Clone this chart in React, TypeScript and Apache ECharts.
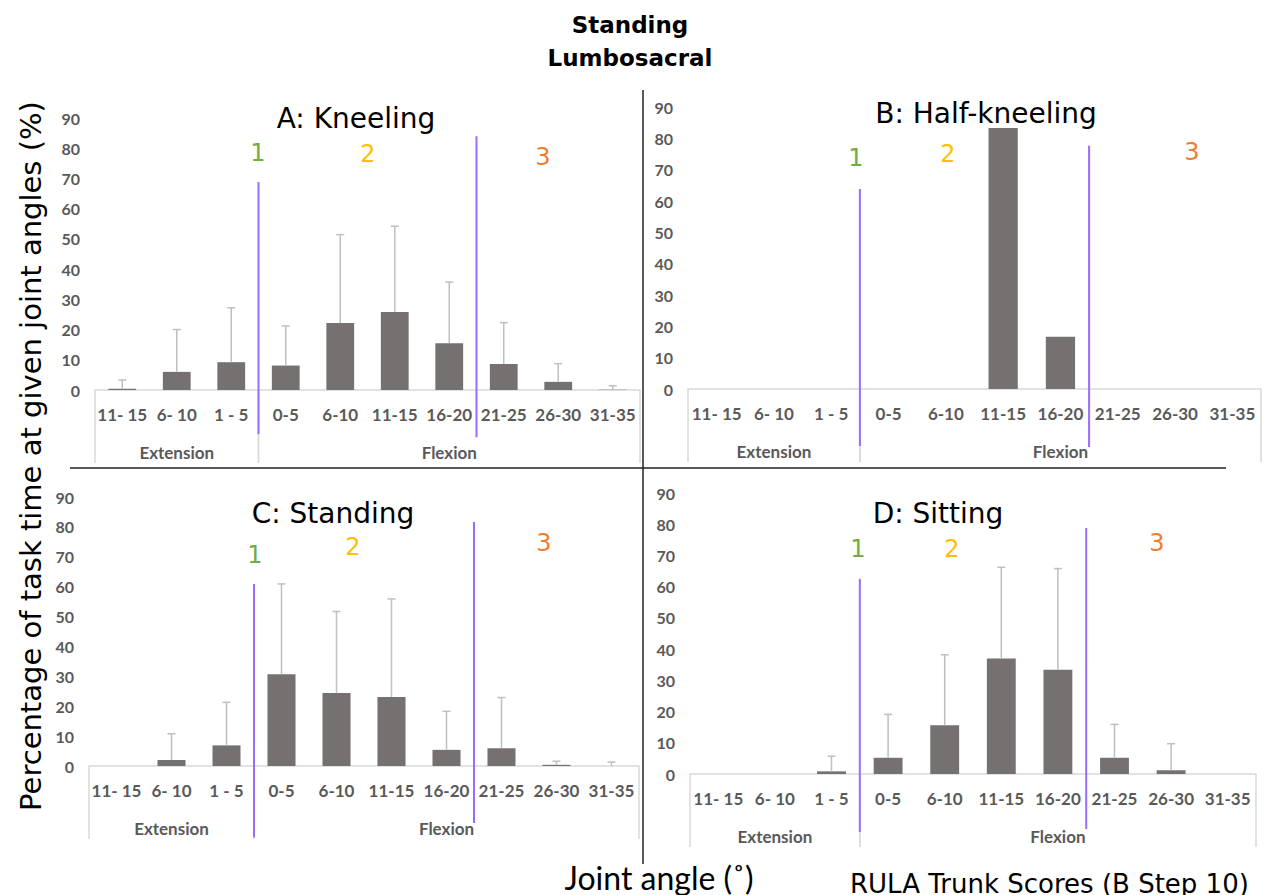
import React, { useEffect, useRef } from "react";
import * as echarts from "echarts";

// ---- data ----
const categories = ["11- 15", "6- 10", "1 - 5", "0-5", "6-10", "11-15", "16-20", "21-25", "26-30", "31-35"];
const groupNames = ["Extension", "Flexion"];
const groupSizes = [3, 7];

const panelTitles = ["A: Kneeling", "B: Half-kneeling", "C: Standing", "D: Sitting"];

const kneelingMean = [0.4, 6.0, 9.2, 8.1, 22.2, 25.8, 15.5, 8.6, 2.7, 0.1];
const kneelingUpper = [3.3, 20.0, 27.2, 21.2, 51.4, 54.2, 35.7, 22.3, 8.7, 1.4];

const halfKneelingMean = [0, 0, 0, 0, 0, 83.3, 16.7, 0, 0, 0];
const halfKneelingUpper = [null, null, null, null, null, null, null, null, null, null];

const standingMean = [0, 2.0, 6.9, 30.7, 24.4, 23.1, 5.4, 5.9, 0.4, 0];
const standingUpper = [null, 10.8, 21.3, 60.9, 51.7, 55.9, 18.3, 22.9, 1.6, 1.3];

const sittingMean = [0, 0, 0.85, 5.2, 15.6, 37.0, 33.4, 5.2, 1.2, 0];
const sittingUpper = [null, null, 5.7, 19.1, 38.2, 66.2, 65.8, 15.9, 9.7, null];

// RULA score boundaries (category boundary index) and the value range each purple line spans
const scoreBoundaries = [3, 7];
const kneelingScoreLines = [[-14.6, 68.8], [-15.6, 84.0]];
const halfKneelingScoreLines = [[-18.2, 63.8], [-18.5, 77.6]];
const standingScoreLines = [[-23.8, 60.9], [-19.1, 81.6]];
const sittingScoreLines = [[-18.6, 62.5], [-17.6, 78.8]];

const scoreNames = ["1", "2", "3"];

const yMin = 0;
const yMax = 90;
const yInterval = 10;

const yAxisTitle = "Percentage of task time at given joint angles (%)";
const xAxisTitle = "Joint angle (\u02DA)";
const rulaTitle = "RULA Trunk Scores (B Step 10)";
const mainTitle = "Standing\nLumbosacral";

// ---- layout / style ----
const grids = [
  { left: 95, top: 118, width: 545, height: 272 },
  { left: 688, top: 107, width: 573, height: 282 },
  { left: 89, top: 497, width: 550, height: 269 },
  { left: 690, top: 493, width: 566, height: 281 },
];
const titlePos = [
  [356, 118],
  [986, 113],
  [333, 513],
  [938, 513],
];
const scoreLabelPos = [
  [[258, 153], [368, 154], [543, 157]],
  [[856, 158], [948, 154], [1192, 152]],
  [[255, 555], [353, 547], [544, 543]],
  [[858, 549], [952, 549], [1157, 543]],
];
const scoreColors = ["#70AD47", "#FFC000", "#ED7D31"];
const BAR = "#767171";
const ERR = "#BFBFBF";
const FRAME = "#D9D9D9";
const PURPLE = "#9B6BFF";
const LABEL = "#595959";

const panels = [
  { mean: kneelingMean, upper: kneelingUpper, lines: kneelingScoreLines },
  { mean: halfKneelingMean, upper: halfKneelingUpper, lines: halfKneelingScoreLines },
  { mean: standingMean, upper: standingUpper, lines: standingScoreLines },
  { mean: sittingMean, upper: sittingUpper, lines: sittingScoreLines },
];

function buildOption() {
  const grid: any[] = [];
  const xAxis: any[] = [];
  const yAxis: any[] = [];
  const series: any[] = [];
  const graphic: any[] = [];

  panels.forEach((p, k) => {
    grid.push({ ...grids[k], containLabel: false });
    xAxis.push({
      type: "category",
      gridIndex: k,
      data: categories,
      axisTick: { show: false },
      axisLine: { show: true, lineStyle: { color: FRAME, width: 1.5 } },
      axisLabel: {
        interval: 0,
        margin: 16,
        color: LABEL,
        fontFamily: "Lato",
        fontWeight: "bold",
        fontSize: 17,
      },
      splitLine: { show: false },
    });
    yAxis.push({
      type: "value",
      gridIndex: k,
      min: yMin,
      max: yMax,
      interval: yInterval,
      axisLine: { show: false },
      axisTick: { show: false },
      splitLine: { show: false },
      axisLabel: {
        margin: 15,
        color: LABEL,
        fontFamily: "Lato",
        fontWeight: "bold",
        fontSize: 16,
      },
    });

    series.push({
      type: "bar",
      xAxisIndex: k,
      yAxisIndex: k,
      data: p.mean,
      barWidth: "51%",
      itemStyle: { color: BAR },
      silent: true,
    });

    const errData: any[] = [];
    p.mean.forEach((m, i) => {
      const u = p.upper[i];
      if (u !== null && u !== undefined) errData.push([i, m, u]);
    });
    series.push({
      type: "custom",
      xAxisIndex: k,
      yAxisIndex: k,
      data: errData,
      encode: { x: 0, y: [1, 2] },
      z: 3,
      silent: true,
      renderItem: (params: any, api: any) => {
        const i = api.value(0);
        const p0 = api.coord([i, api.value(1)]);
        const p1 = api.coord([i, api.value(2)]);
        return {
          type: "group",
          children: [
            { type: "line", shape: { x1: p0[0], y1: p0[1], x2: p1[0], y2: p1[1] }, style: { stroke: ERR, lineWidth: 1.5 } },
            { type: "line", shape: { x1: p1[0] - 4, y1: p1[1], x2: p1[0] + 4, y2: p1[1] }, style: { stroke: ERR, lineWidth: 1.5 } },
          ],
        };
      },
    });

    // multi-level category frame with group labels
    const groupData: any[] = [];
    let start = 0;
    groupSizes.forEach((n, g) => {
      groupData.push([start, start + n - 1, 0, g]);
      start += n;
    });
    series.push({
      type: "custom",
      xAxisIndex: k,
      yAxisIndex: k,
      data: groupData,
      encode: { x: [0, 1], y: 2 },
      z: 2,
      silent: true,
      renderItem: (params: any, api: any) => {
        const band = api.size([1, 0])[0];
        const a = api.coord([api.value(0), 0]);
        const b = api.coord([api.value(1), 0]);
        const l = a[0] - band / 2;
        const r = b[0] + band / 2;
        const y0 = a[1];
        const depth = 73;
        const g = api.value(3);
        return {
          type: "group",
          children: [
            { type: "line", shape: { x1: l, y1: y0, x2: l, y2: y0 + depth }, style: { stroke: FRAME, lineWidth: 1.5 } },
            { type: "line", shape: { x1: r, y1: y0, x2: r, y2: y0 + depth }, style: { stroke: FRAME, lineWidth: 1.5 } },
            {
              type: "text",
              x: (l + r) / 2,
              y: y0 + 62,
              style: {
                text: groupNames[g],
                fill: LABEL,
                font: "bold 17px Lato",
                align: "center",
                verticalAlign: "middle",
              },
            },
          ],
        };
      },
    });

    // RULA score boundary lines
    series.push({
      type: "custom",
      xAxisIndex: k,
      yAxisIndex: k,
      data: scoreBoundaries.map((b, j) => [b, p.lines[j][0], p.lines[j][1]]),
      encode: { x: 0, y: [1, 2] },
      z: 5,
      silent: true,
      renderItem: (params: any, api: any) => {
        const band = api.size([1, 0])[0];
        const b = api.value(0);
        const top = api.coord([b, api.value(2)]);
        const bot = api.coord([b, api.value(1)]);
        const x = top[0] - band / 2;
        return {
          type: "line",
          shape: { x1: x, y1: top[1], x2: x, y2: bot[1] },
          style: { stroke: PURPLE, lineWidth: 2 },
        };
      },
    });

    graphic.push({
      type: "text",
      x: titlePos[k][0],
      y: titlePos[k][1],
      style: {
        text: panelTitles[k],
        font: "28px 'DejaVu Sans'",
        fill: "#000",
        align: "center",
        verticalAlign: "middle",
      },
    });
    scoreNames.forEach((s, j) => {
      graphic.push({
        type: "text",
        x: scoreLabelPos[k][j][0],
        y: scoreLabelPos[k][j][1],
        style: {
          text: s,
          font: "24px 'DejaVu Sans'",
          fill: scoreColors[j],
          align: "center",
          verticalAlign: "middle",
        },
      });
    });
  });

  // dividing lines
  graphic.push({ type: "line", shape: { x1: 70, y1: 468, x2: 1226, y2: 468 }, style: { stroke: "#222", lineWidth: 1.5 } });
  graphic.push({ type: "line", shape: { x1: 643, y1: 90, x2: 643, y2: 864 }, style: { stroke: "#222", lineWidth: 1.5 } });

  graphic.push({
    type: "text",
    x: 630,
    y: 41,
    style: {
      text: mainTitle,
      font: "bold 23px 'DejaVu Sans'",
      fill: "#000",
      align: "center",
      verticalAlign: "middle",
      lineHeight: 33,
    },
  });
  graphic.push({
    type: "text",
    x: 31,
    y: 456,
    rotation: Math.PI / 2,
    style: {
      text: yAxisTitle,
      font: "29px 'DejaVu Sans'",
      fill: "#000",
      align: "center",
      verticalAlign: "middle",
    },
  });
  graphic.push({
    type: "text",
    x: 659,
    y: 877,
    style: {
      text: xAxisTitle,
      font: "32px Lato",
      fill: "#000",
      align: "center",
      verticalAlign: "middle",
    },
  });
  graphic.push({
    type: "text",
    x: 850,
    y: 884,
    style: {
      text: rulaTitle,
      font: "26px 'DejaVu Sans'",
      fill: "#000",
      align: "left",
      verticalAlign: "middle",
    },
  });

  return {
    animation: false,
    backgroundColor: "#fff",
    grid,
    xAxis,
    yAxis,
    series,
    graphic,
  };
}

export default function App() {
  const ref = useRef<HTMLDivElement>(null);
  useEffect(() => {
    if (!ref.current) return;
    const chart = echarts.init(ref.current, undefined, { renderer: "svg" });
    chart.setOption(buildOption() as any);
    return () => chart.dispose();
  }, []);
  return (
    <div
      ref={ref}
      style={{ position: "absolute", left: 0, top: 0, width: 1272, height: 895 }}
    />
  );
}
